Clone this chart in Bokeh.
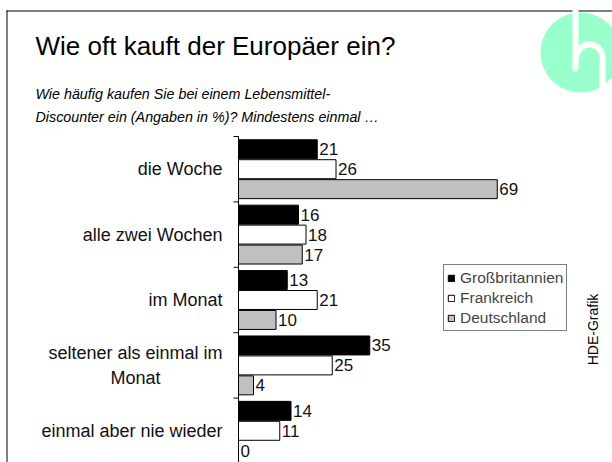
import numpy as np
from bokeh.plotting import figure
from bokeh.models import (Range1d, Label, Legend, LegendItem,
                          PolyAnnotation, BoxAnnotation, ColumnDataSource)
from bokeh.transform import dodge
from bokeh.core.properties import value
from bokeh.embed import file_html
from bokeh.resources import INLINE

# ---------------- data ----------------
categories = ["die Woche", "alle zwei Wochen", "im Monat",
              "seltener als einmal im\nMonat", "einmal aber nie wieder"]
countries = ["Großbritannien", "Frankreich", "Deutschland"]
gb = [21, 16, 13, 35, 14]
fr = [26, 18, 21, 25, 11]
de = [69, 17, 10, 4, 0]

title_text = "Wie oft kauft der Europäer ein?"
subtitle_1 = "Wie häufig kaufen Sie bei einem Lebensmittel-"
subtitle_2 = "Discounter ein (Angaben in %)? Mindestens einmal …"
credit = "HDE-Grafik"

FONT = "Liberation Sans"
n = len(categories)
ypos = [n - i - 0.5 for i in range(n)]      # category centres, top first

src = ColumnDataSource(dict(y=ypos, gb=gb, fr=fr, de=de,
                            gb_l=[str(v) for v in gb],
                            fr_l=[str(v) for v in fr],
                            de_l=[str(v) for v in de]))

# ---------------- layout constants (pixels) ----------------
W, H = 612, 462
AX_X = 238          # pixel x of the value axis
TOP_Y = 136         # pixel y of the top of the category block
PX_X = 3.75         # pixels per percent
PX_Y = 65.4         # pixels per category

x_start = -AX_X / PX_X
x_end = (W - AX_X) / PX_X
y_end = n + TOP_Y / PX_Y
y_start = n - (H - TOP_Y) / PX_Y

p = figure(width=W, height=H, output_backend="svg", toolbar_location=None,
           x_range=Range1d(x_start, x_end), y_range=Range1d(y_start, y_end),
           x_axis_location=None, y_axis_location=None,
           min_border=0)
p.outline_line_color = None
p.grid.visible = False
p.background_fill_color = "white"
p.border_fill_color = "white"

# value axis line and boundary ticks
p.segment(x0=[0], y0=[y_start], x1=[0], y1=[n], line_color="black", line_width=1)
bounds = [b for b in range(1, n + 1)]
p.segment(x0=[-5 / PX_X] * len(bounds), y0=bounds, x1=[0] * len(bounds), y1=bounds,
          line_color="black", line_width=1)

# category labels
single = [(y, c) for y, c in zip(ypos, categories) if "\n" not in c]
multi = [(y, c) for y, c in zip(ypos, categories) if "\n" in c]
p.text(x=[0] * len(single), y=[s[0] for s in single], text=[s[1] for s in single],
       x_offset=-16, text_align="right", text_baseline="middle",
       text_font=value(FONT), text_font_size="18px", text_color="#111111")
if multi:
    p.text(x=[0] * len(multi), y=[m[0] for m in multi], text=[m[1] for m in multi],
           x_offset=-16 - 87, text_align="center", text_baseline="middle",
           text_font=value(FONT), text_font_size="18px", text_color="#111111",
           text_line_height=1.25)

offs = [0.305, 0.0, -0.305]
fills = ["#000000", "#FFFFFF", "#C0C0C0"]
cols = ["gb", "fr", "de"]
items = []
for col, off, fc, name in zip(cols, offs, fills, countries):
    r = p.hbar(y=dodge("y", off), left=0, right=col, height=0.29, source=src,
               fill_color=fc, line_color="#000000", line_width=1)
    items.append(LegendItem(label=name, renderers=[r]))
    p.text(x=col, y=dodge("y", off), text=col + "_l", source=src, x_offset=2,
           text_baseline="middle", text_align="left", text_font=value(FONT),
           text_font_size="17px", text_color="#111111")

legend = Legend(items=items, location=(443, H - 331), orientation="vertical",
                label_text_font=FONT, label_text_font_size="15.5px",
                glyph_width=8, glyph_height=8, label_height=19, spacing=1,
                padding=3, margin=0, label_standoff=5,
                border_line_color="#000000", border_line_width=1,
                background_fill_alpha=1.0)
p.add_layout(legend, "center")

# ---------- decorations (page coords; y measured from bottom) ----------
def sy(py):
    return H - py

p.add_layout(Label(x=35, y=sy(45), x_units="screen", y_units="screen",
                   text=title_text, text_font=FONT, text_font_size="26px",
                   text_color="black", text_baseline="middle"))
p.add_layout(Label(x=35, y=sy(93), x_units="screen", y_units="screen",
                   text=subtitle_1, text_font=FONT, text_font_size="14.3px",
                   text_font_style="italic", text_color="black", text_baseline="middle"))
p.add_layout(Label(x=35, y=sy(116), x_units="screen", y_units="screen",
                   text=subtitle_2, text_font=FONT, text_font_size="14.3px",
                   text_font_style="italic", text_color="black", text_baseline="middle"))
p.add_layout(Label(x=592, y=sy(329), x_units="screen", y_units="screen",
                   text=credit, text_font=FONT, text_font_size="14px", angle=np.pi / 2,
                   text_align="center", text_baseline="middle", text_color="black"))

# border lines
p.add_layout(BoxAnnotation(left=6, right=W, top=sy(10), bottom=sy(11),
                           left_units="screen", right_units="screen",
                           top_units="screen", bottom_units="screen",
                           fill_color="black", fill_alpha=1, line_color=None))
p.add_layout(BoxAnnotation(left=6, right=7, top=sy(10), bottom=sy(H + 5),
                           left_units="screen", right_units="screen",
                           top_units="screen", bottom_units="screen",
                           fill_color="black", fill_alpha=1, line_color=None))

# logo
t = np.linspace(0, 2 * np.pi, 100)
cx, cy, rr = 580, 52, 40
p.add_layout(PolyAnnotation(xs=list(cx + rr * np.cos(t)), ys=list(sy(cy + rr * np.sin(t))),
                            xs_units="screen", ys_units="screen",
                            fill_color="#99FFCC", fill_alpha=1, line_color=None))
a = np.linspace(0, np.pi, 20)
vx = [572, 578] + list(575 + 3 * np.cos(a))
vy = [8, 8] + list(68 + 3 * np.sin(a))
p.add_layout(PolyAnnotation(xs=vx, ys=[sy(v) for v in vy],
                            xs_units="screen", ys_units="screen",
                            fill_color="white", fill_alpha=1, line_color=None))
ac_x, ac_y, ro, ri = 589, 57, 16, 10
ang = np.linspace(np.pi, 0, 40)
ox = list(ac_x + ro * np.cos(ang)); oy = list(ac_y - ro * np.sin(ang))
ix = list(ac_x + ri * np.cos(ang[::-1])); iy = list(ac_y - ri * np.sin(ang[::-1]))
hx = ox + [ac_x + ro, ac_x + ri] + ix
hy = oy + [110, 110] + iy
p.add_layout(PolyAnnotation(xs=hx, ys=[sy(v) for v in hy],
                            xs_units="screen", ys_units="screen",
                            fill_color="white", fill_alpha=1, line_color=None))

open("out.html", "w").write(file_html(p, INLINE))
